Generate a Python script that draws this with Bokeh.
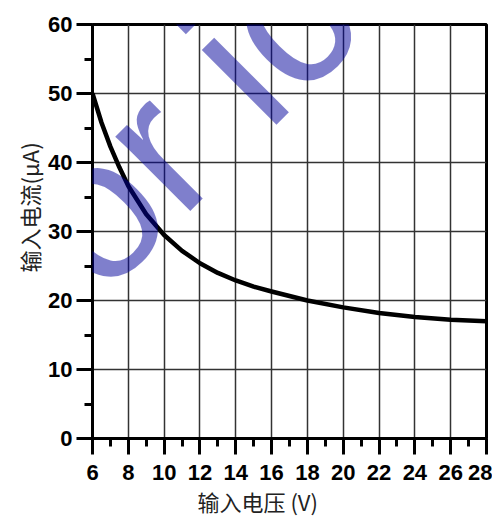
import math
from bokeh.plotting import figure
from bokeh.models import Range1d, FixedTicker, Label, Title
from bokeh.embed import file_html
from bokeh.resources import INLINE

# ---- data ----
voltage = [6, 6.5, 7, 7.5, 8, 9, 10, 11, 12, 13, 14, 15, 16, 18, 20, 22, 24, 26, 28]
current = [50, 45.8, 42.3, 39.3, 36.6, 32.5, 29.5, 27.2, 25.4, 24.0, 22.9, 22.0,
           21.3, 20.0, 19.0, 18.2, 17.6, 17.2, 17.0]
x_ticks = [6, 8, 10, 12, 14, 16, 18, 20, 22, 24, 26, 28]
x_minor = [7, 9, 11, 13, 15, 17, 19, 21, 23, 25, 27]
y_ticks = [0, 10, 20, 30, 40, 50, 60]
y_minor = [5, 15, 25, 35, 45, 55]
x_label = "输入电压 (V)"
y_label = "输入电流(μA)"
watermark = "e for ic"

TICKFONT = "'Liberation Sans Narrow', 'Liberation Sans', sans-serif"
CJK = "Noto Sans CJK SC"

p = figure(width=492, height=517, output_backend="svg", toolbar_location=None,
           x_range=Range1d(6, 28), y_range=Range1d(0, 60),
           min_border_left=92, min_border_right=6, min_border_top=24,
           min_border_bottom=79)
p.background_fill_color = "white"
p.border_fill_color = "white"
p.outline_line_color = "black"
p.outline_line_width = 3

p.xaxis.ticker = FixedTicker(ticks=x_ticks, minor_ticks=x_minor)
p.yaxis.ticker = FixedTicker(ticks=y_ticks, minor_ticks=y_minor)
p.xgrid.ticker = FixedTicker(ticks=x_ticks)
p.ygrid.ticker = FixedTicker(ticks=y_ticks)
p.grid.grid_line_color = "#333333"
p.grid.grid_line_width = 1.5
p.grid.grid_line_alpha = 1.0

for ax in (p.xaxis[0], p.yaxis[0]):
    ax.axis_line_color = "black"
    ax.axis_line_width = 3
    ax.major_tick_line_color = "black"
    ax.major_tick_line_width = 3
    ax.major_tick_in = 0
    ax.major_tick_out = 16
    ax.minor_tick_line_color = "black"
    ax.minor_tick_line_width = 3
    ax.minor_tick_in = 0
    ax.minor_tick_out = 8
    ax.major_label_text_font = TICKFONT
    ax.major_label_text_font_style = "bold"
    ax.major_label_text_font_size = "22px"
    ax.major_label_text_color = "black"
p.xaxis.major_label_standoff = 10
p.yaxis.major_label_standoff = 4

# watermark (semi-transparent, rotated)
def dx(px):
    return 6 + (px - 92) * 22 / 394
def dy(py):
    return (438 - py) * 60 / 414

p.add_layout(Label(x=dx(-105), y=dy(407), text=watermark, text_font="Liberation Sans",
                   text_font_size="200px", text_color="#00009a", text_alpha=0.5,
                   angle=math.pi / 4, text_baseline="alphabetic", text_align="left"))

p.line(voltage, current, line_color="black", line_width=4.5, line_join="round")

p.add_layout(Title(text=x_label, text_font=CJK, text_font_size="22px",
                   text_font_style="normal", text_color="#222222",
                   align="left", offset=105, standoff=0), "below")
p.add_layout(Title(text=y_label, text_font=CJK, text_font_size="22px",
                   text_font_style="normal", text_color="#222222",
                   align="left", offset=166, standoff=2), "left")

open("out.html", "w").write(file_html(p, INLINE))
